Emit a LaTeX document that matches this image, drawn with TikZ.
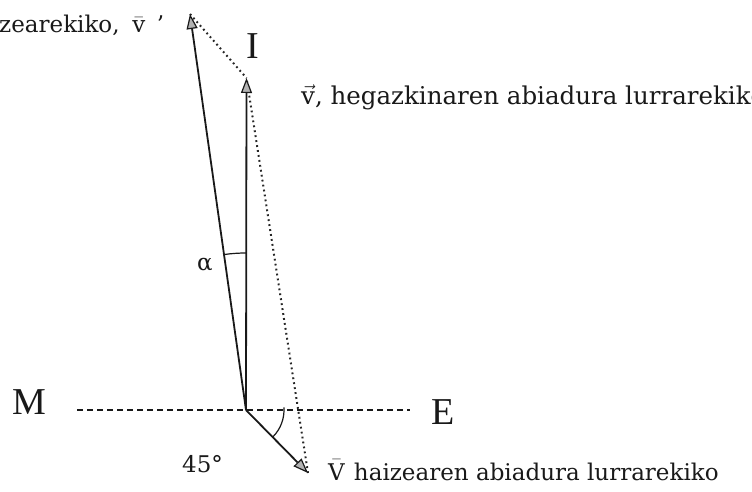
\documentclass[tikz,border=0pt]{standalone}
\usepackage{amsmath}
\usepackage{fontspec}
\setmainfont{DejaVu Serif}
\newfontfamily\bigserif{Liberation Serif}
\usetikzlibrary{arrows.meta}
\begin{document}
\begin{tikzpicture}[x=1pt,y=-1pt,
  ink/.style={black!90},
  vecarrow/.style={ink, line width=1.8pt, -{Triangle[length=15pt,width=11pt,fill=gray!60,line width=1.2pt]}},
  dotline/.style={black!85, line width=2pt, dash pattern=on 1.8pt off 3.2pt},
  dashline/.style={ink, line width=1.1pt, dash pattern=on 6pt off 4pt},
  anglearc/.style={ink, line width=1.2pt},
  body/.style={ink, inner sep=0pt, font=\fontsize{23}{27}\selectfont},
  bodyl/.style={ink, inner sep=0pt, font=\fontsize{24.5}{28}\selectfont},
  big/.style={ink, inner sep=0pt, font=\bigserif\fontsize{38}{42}\selectfont}]
\useasboundingbox (0,0) rectangle (752,492);
% points
\coordinate (O) at (246,410);
\coordinate (P1) at (190,14);
\coordinate (P2) at (246.5,78);
\coordinate (P3) at (308,473);
\coordinate (ML) at (77,410);
\coordinate (MR) at (410,410);
% dashed horizontal line
\draw[dashline] (ML) -- (MR);
% dotted parallelogram sides
\draw[dotline] (P1) -- (P2);
\draw[dotline] (P3) -- (P2);
% vectors
\draw[vecarrow] (O) -- (P1);
\draw[vecarrow] (O) -- (P2);
\draw[vecarrow] (O) -- (P3);
% angle arcs
\draw[anglearc] (O) ++(262:157) arc[start angle=262, end angle=270, radius=157];
\draw[anglearc] (O) ++(-4:38) arc[start angle=-4, end angle=45, radius=38];
% labels
\node[big, anchor=base] (M) at (29,414) {M};
\node[big, anchor=base] (E) at (443,424) {E};
\node[big, anchor=base] (I) at (253,59) {I};
\node[body] (alpha) at (205,265) {α};
\node[body, anchor=base west] (deg) at (182,472) {45°};
\node[body, anchor=base west] (lv1) at (-1,33) {zearekiko,\hspace{0.55em}$\bar{\text{v}}$\hspace{0.5em}\symbol{39}};
\node[bodyl, anchor=base west] (lv) at (301,105) {$\vec{\text{v}}$, hegazkinaren abiadura lurrarekiko};
\node[body, anchor=base west] (lV) at (328,480) {$\bar{\text{V}}$\hspace{0.4em}haizearen abiadura lurrarekiko};
\end{tikzpicture}
\end{document}
